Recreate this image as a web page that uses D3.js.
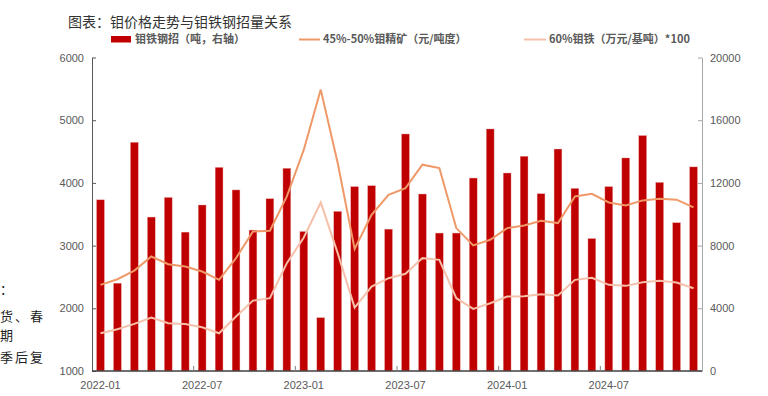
<!DOCTYPE html>
<html><head><meta charset="utf-8">
<script src="https://cdn.jsdelivr.net/npm/d3@7/dist/d3.min.js"></script>
<style>body{margin:0;background:#fff}svg{display:block}</style>
</head><body>
<svg id="c" width="768" height="396"></svg>
<script>
const months = [];
["2022","2023","2024"].forEach(y=>{for(let m=1;m<=12;m++)months.push(y+"-"+String(m).padStart(2,"0"));});
const tickLabels = ["2022-01","2022-07","2023-01","2023-07","2024-01","2024-07"];
const leftTicks = [1000,2000,3000,4000,5000,6000];
const rightTicks = [0,4000,8000,12000,16000,20000];
// 钼铁钢招（吨，右轴）
const tender = [10920,5600,14590,9820,11070,8860,10590,12990,11550,8990,10990,12930,
                8900,3400,10180,11760,11820,9050,15120,11290,8800,8800,12310,15440,
                12630,13700,11310,14160,11650,8450,11760,13590,15020,12030,9460,13020];
// 45%-50%钼精矿（元/吨度）
const conc = [2374,2464,2602,2826,2704,2666,2586,2454,2800,3225,3236,3784,
              4530,5488,4317,2948,3492,3811,3917,4291,4237,3279,3002,3093,
              3279,3320,3396,3359,3784,3827,3688,3641,3721,3747,3732,3609];
// 60%钼铁（万元/基吨）*100
const feMo = [1602,1666,1751,1852,1761,1751,1698,1602,1868,2123,2161,2720,
              3130,3688,2880,2011,2347,2480,2550,2800,2773,2161,1990,2081,
              2187,2193,2225,2203,2454,2486,2374,2358,2416,2438,2411,2320];

const svg = d3.select("#c");
const L=92, R=702, T=57.5, B=371;
const x = d3.scaleBand().domain(months).range([L,R]).padding(0);
const bw = x.bandwidth();
const yL = d3.scaleLinear().domain([1000,6000]).range([B,T]);
const yR = d3.scaleLinear().domain([0,20000]).range([B,T]);
const numFont = "'Liberation Sans', Arial, sans-serif";
const cjk = "'Noto Sans CJK SC', sans-serif";

// title
svg.append("text").attr("x",68).attr("y",27).attr("font-family",cjk).attr("font-size",14)
  .attr("fill","#333").text("图表：钼价格走势与钼铁钢招量关系");

// clipped side text
const side = [["：",0,294],["货、春",0,321],["期",0,340],["季后复",0,362]];
side.forEach(s=>svg.append("text").attr("x",s[1]).attr("y",s[2]).attr("font-family",cjk)
  .attr("font-size",13).attr("letter-spacing",2).attr("fill","#222").text(s[0]));

// bars
svg.append("g").selectAll("rect").data(tender).join("rect")
  .attr("x",(d,i)=>x(months[i])+bw/2-3.9).attr("width",7.8)
  .attr("y",d=>yR(d)).attr("height",d=>B-yR(d))
  .attr("fill","#C00000").attr("stroke","#E8A0A0").attr("stroke-width",0.4);

// lines
const lineL = d3.line().x((d,i)=>x(months[i])+bw/2).y(d=>yL(d));
svg.append("path").datum(feMo).attr("d",lineL).attr("fill","none")
  .attr("stroke","#F6C0AA").attr("stroke-width",2);
svg.append("path").datum(conc).attr("d",lineL).attr("fill","none")
  .attr("stroke","#EF9868").attr("stroke-width",2);

// left axis
const gl = svg.append("g").attr("transform",`translate(${L},0)`)
  .call(d3.axisLeft(yL).tickValues(leftTicks).tickSizeInner(-4).tickSizeOuter(0).tickPadding(8).tickFormat(d3.format("d")));
gl.select(".domain").attr("stroke","#595959");
gl.selectAll(".tick line").attr("stroke","#595959");
gl.selectAll("text").attr("font-family",numFont).attr("font-size",11).attr("fill","#595959");

// right axis
const gr = svg.append("g").attr("transform",`translate(${R},0)`)
  .call(d3.axisRight(yR).tickValues(rightTicks).tickSizeInner(-4).tickSizeOuter(0).tickPadding(8).tickFormat(d3.format("d")));
gr.select(".domain").attr("stroke","#A6A6A6");
gr.selectAll(".tick line").attr("stroke","#A6A6A6");
gr.selectAll("text").attr("font-family",numFont).attr("font-size",11).attr("fill","#595959");

// x axis
svg.append("line").attr("x1",L).attr("x2",R).attr("y1",B).attr("y2",B).attr("stroke","#404040").attr("stroke-width",1.3);
svg.append("g").selectAll("line").data(tickLabels.slice(1)).join("line")
  .attr("x1",d=>x(d)).attr("x2",d=>x(d)).attr("y1",B).attr("y2",B-5).attr("stroke","#808080");
svg.append("g").selectAll("text").data(tickLabels).join("text")
  .attr("x",d=>x(d)+bw/2).attr("y",389).attr("text-anchor","middle")
  .attr("font-family",numFont).attr("font-size",11).attr("fill","#595959").text(d=>d);

// legend
const lg = svg.append("g").attr("font-family",cjk).attr("font-size",11).attr("font-weight","bold").attr("fill","#595959");
lg.append("rect").attr("x",111).attr("y",36).attr("width",20).attr("height",6.5).attr("fill","#C00000");
lg.append("text").attr("x",135).attr("y",43).text("钼铁钢招（吨，右轴）");
lg.append("line").attr("x1",299).attr("x2",320).attr("y1",39.5).attr("y2",39.5).attr("stroke","#EF9868").attr("stroke-width",2);
lg.append("text").attr("x",323).attr("y",43).text("45%-50%钼精矿（元/吨度）");
lg.append("line").attr("x1",524).attr("x2",546).attr("y1",39.5).attr("y2",39.5).attr("stroke","#F6C0AA").attr("stroke-width",2);
lg.append("text").attr("x",549).attr("y",43).text("60%钼铁（万元/基吨）*100");
</script>
</body></html>
